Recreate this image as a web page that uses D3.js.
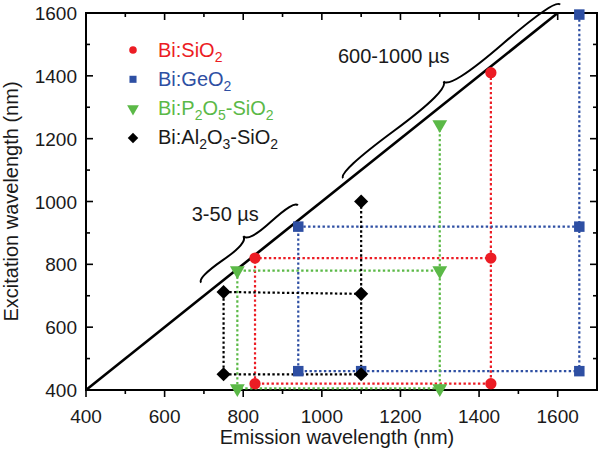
<!DOCTYPE html>
<html><head><meta charset="utf-8">
<script src="https://cdn.jsdelivr.net/npm/d3@7"></script>
<style>
html,body{margin:0;padding:0;background:#fff;}
svg{display:block;font-family:Arial,"Liberation Sans",sans-serif;}
</style></head>
<body><svg id="c" width="600" height="463"></svg>
<script>
// ---- data ----
const seriesNames = ["Bi:SiO2", "Bi:GeO2", "Bi:P2O5-SiO2", "Bi:Al2O3-SiO2"];
// emission (x) and excitation (y) values, in drawing order of the dotted path
const redEm   = [1430, 1430, 830, 830, 1430];
const redEx   = [1410, 420, 420, 820, 820];
const blueEm  = [1655, 1655, 1100, 940, 940, 1655];
const blueEx  = [1595, 460, 460, 460, 920, 920];
const greenEm = [1300, 1300, 785, 785, 1300];
const greenEx = [1245, 405, 405, 780, 780];
const blackEm = [1100, 1100, 750, 750, 1100];
const blackEx = [1000, 450, 450, 712, 706];
const xTicks = [400, 600, 800, 1000, 1200, 1400, 1600];
const yTicks = [400, 600, 800, 1000, 1200, 1400, 1600];
const diagonal = [400, 1600];
const braceFrom = [1062, 712];
const braceTo = [1614, 958];
const braceLabels = ["600-1000 \u00b5s", "3-50 \u00b5s"];
const braceLabelX = [1041, 669];
const braceLabelY = [1441, 938];

// ---- layout ----
const svg = d3.select("#c");
const L = 86, R = 597, T = 13, B = 390;
const x = d3.scaleLinear().domain([400, 1700]).range([L, R]);
const y = d3.scaleLinear().domain([400, 1600]).range([B, T]);

const colors = ["#ec1c24", "#2e4fa3", "#5bb947", "#000000"];
const ems = [redEm, blueEm, greenEm, blackEm];
const exs = [redEx, blueEx, greenEx, blackEx];

// frame
svg.append("rect").attr("x", L).attr("y", T).attr("width", R - L).attr("height", B - T)
  .attr("fill", "none").attr("stroke", "#000").attr("stroke-width", 2);

// ticks
const minorX = d3.range(400, 1701, 100);
const minorY = d3.range(400, 1601, 100);
const tk = svg.append("g").attr("stroke", "#000").attr("stroke-width", 1.6);
minorX.forEach(v => {
  const len = v % 200 === 0 ? 7 : 4;
  if (v > 400 && v < 1700) {
    tk.append("line").attr("x1", x(v)).attr("x2", x(v)).attr("y1", B).attr("y2", B + len);
    tk.append("line").attr("x1", x(v)).attr("x2", x(v)).attr("y1", T).attr("y2", T + len);
  }
});
minorY.forEach(v => {
  const len = v % 200 === 0 ? 7 : 4;
  if (v > 400 && v < 1600) {
    tk.append("line").attr("y1", y(v)).attr("y2", y(v)).attr("x1", L).attr("x2", L + len);
    tk.append("line").attr("y1", y(v)).attr("y2", y(v)).attr("x1", R).attr("x2", R - len);
  }
});
tk.append("line").attr("x1", x(400)).attr("x2", x(400)).attr("y1", B).attr("y2", B + 7);

// tick labels
svg.append("g").selectAll("text").data(xTicks).join("text")
  .attr("x", d => x(d)).attr("y", 423).attr("text-anchor", "middle")
  .attr("font-size", 19).attr("fill", "#1a1a1a").text(d => d);
svg.append("g").selectAll("text").data(yTicks).join("text")
  .attr("x", 77).attr("y", d => y(d) + 7).attr("text-anchor", "end")
  .attr("font-size", 19).attr("fill", "#1a1a1a").text(d => d);

// axis titles
svg.append("text").attr("x", 337).attr("y", 444).attr("text-anchor", "middle")
  .attr("font-size", 20).attr("fill", "#1a1a1a").text("Emission wavelength (nm)");
svg.append("text").attr("transform", "translate(18," + ((T + B) / 2) + ") rotate(-90)")
  .attr("text-anchor", "middle").attr("font-size", 20).attr("fill", "#1a1a1a")
  .text("Excitation wavelength (nm)");

// diagonal
svg.append("line").attr("x1", x(diagonal[0])).attr("y1", y(diagonal[0]))
  .attr("x2", x(diagonal[1])).attr("y2", y(diagonal[1]))
  .attr("stroke", "#000").attr("stroke-width", 2.6);

// braces
function brace(x1, y1, x2, y2, w, q) {
  let dx = x1 - x2, dy = y1 - y2;
  const len = Math.sqrt(dx * dx + dy * dy);
  dx /= len; dy /= len;
  const qx1 = x1 + q * w * dy, qy1 = y1 - q * w * dx;
  const qx2 = (x1 - .25 * len * dx) + (1 - q) * w * dy, qy2 = (y1 - .25 * len * dy) - (1 - q) * w * dx;
  const tx1 = (x1 - .5 * len * dx) + w * dy, ty1 = (y1 - .5 * len * dy) - w * dx;
  const qx3 = x2 + q * w * dy, qy3 = y2 - q * w * dx;
  const qx4 = (x1 - .75 * len * dx) + (1 - q) * w * dy, qy4 = (y1 - .75 * len * dy) - (1 - q) * w * dx;
  return `M${x1},${y1}Q${qx1},${qy1} ${qx2},${qy2}T${tx1},${ty1}M${x2},${y2}Q${qx3},${qy3} ${qx4},${qy4}T${tx1},${ty1}`;
}
const braceBase = [5, 12], braceW = [13, 10];
braceFrom.forEach((a, i) => {
  const b = braceTo[i];
  const vx = x(b) - x(a), vy = y(b) - y(a);
  const vl = Math.hypot(vx, vy);
  const nx = vy / vl, ny = -vx / vl;
  const off = braceBase[i];
  const x1 = x(b) + nx * off, y1 = y(b) + ny * off;
  const x2 = x(a) + nx * off, y2 = y(a) + ny * off;
  svg.append("path").attr("d", brace(x1, y1, x2, y2, braceW[i], 0.6))
    .attr("fill", "none").attr("stroke", "#000").attr("stroke-width", 2);
  svg.append("text").attr("x", x(braceLabelX[i])).attr("y", y(braceLabelY[i]))
    .attr("font-size", 20).attr("fill", "#1a1a1a").text(braceLabels[i]);
});

// dotted lines
const line = d3.line().x(d => x(d[0])).y(d => y(d[1]));
ems.forEach((em, i) => {
  const pts = em.map((v, j) => [v, exs[i][j]]);
  svg.append("path").attr("d", line(pts)).attr("fill", "none")
    .attr("stroke", colors[i]).attr("stroke-width", 2.2).attr("stroke-dasharray", "2.4,2.4");
});

// markers
const symDefs = [
  {t: d3.symbolCircle, s: 100, r: 0},
  {t: d3.symbolSquare, s: 110, r: 0},
  {t: d3.symbolTriangle, s: 95, r: 180},
  {t: d3.symbolSquare, s: 100, r: 45}
];
ems.forEach((em, i) => {
  const pts = em.map((v, j) => [v, exs[i][j]]);
  const sd = symDefs[i];
  svg.append("g").selectAll("path").data(pts).join("path")
    .attr("d", d3.symbol().type(sd.t).size(sd.s)())
    .attr("transform", d => `translate(${x(d[0])},${y(d[1])}) rotate(${sd.r})`)
    .attr("fill", colors[i]);
});

// legend
const legendParts = [
  [["Bi:SiO", 0], ["2", 1]],
  [["Bi:GeO", 0], ["2", 1]],
  [["Bi:P", 0], ["2", 1], ["O", 0], ["5", 1], ["-SiO", 0], ["2", 1]],
  [["Bi:Al", 0], ["2", 1], ["O", 0], ["3", 1], ["-SiO", 0], ["2", 1]]
];
const legSym = [45, 50, 60, 55];
seriesNames.forEach((name, i) => {
  const base = 56.5 + i * 29.3;
  const sd = symDefs[i];
  svg.append("path").attr("d", d3.symbol().type(sd.t).size(legSym[i])())
    .attr("transform", `translate(133,${base - 6.5}) rotate(${sd.r})`).attr("fill", colors[i]);
  const t = svg.append("text").attr("x", 158).attr("y", base).attr("font-size", 20)
    .attr("fill", i === 3 ? "#1a1a1a" : colors[i]);
  legendParts[i].forEach(([s, sub], j) => {
    const prevSub = j > 0 ? legendParts[i][j - 1][1] : 0;
    const ts = t.append("tspan").text(s)
      .attr("dy", sub && !prevSub ? 5 : (!sub && prevSub ? -5 : 0));
    if (sub) ts.attr("font-size", 14);
  });
});
</script></body></html>
